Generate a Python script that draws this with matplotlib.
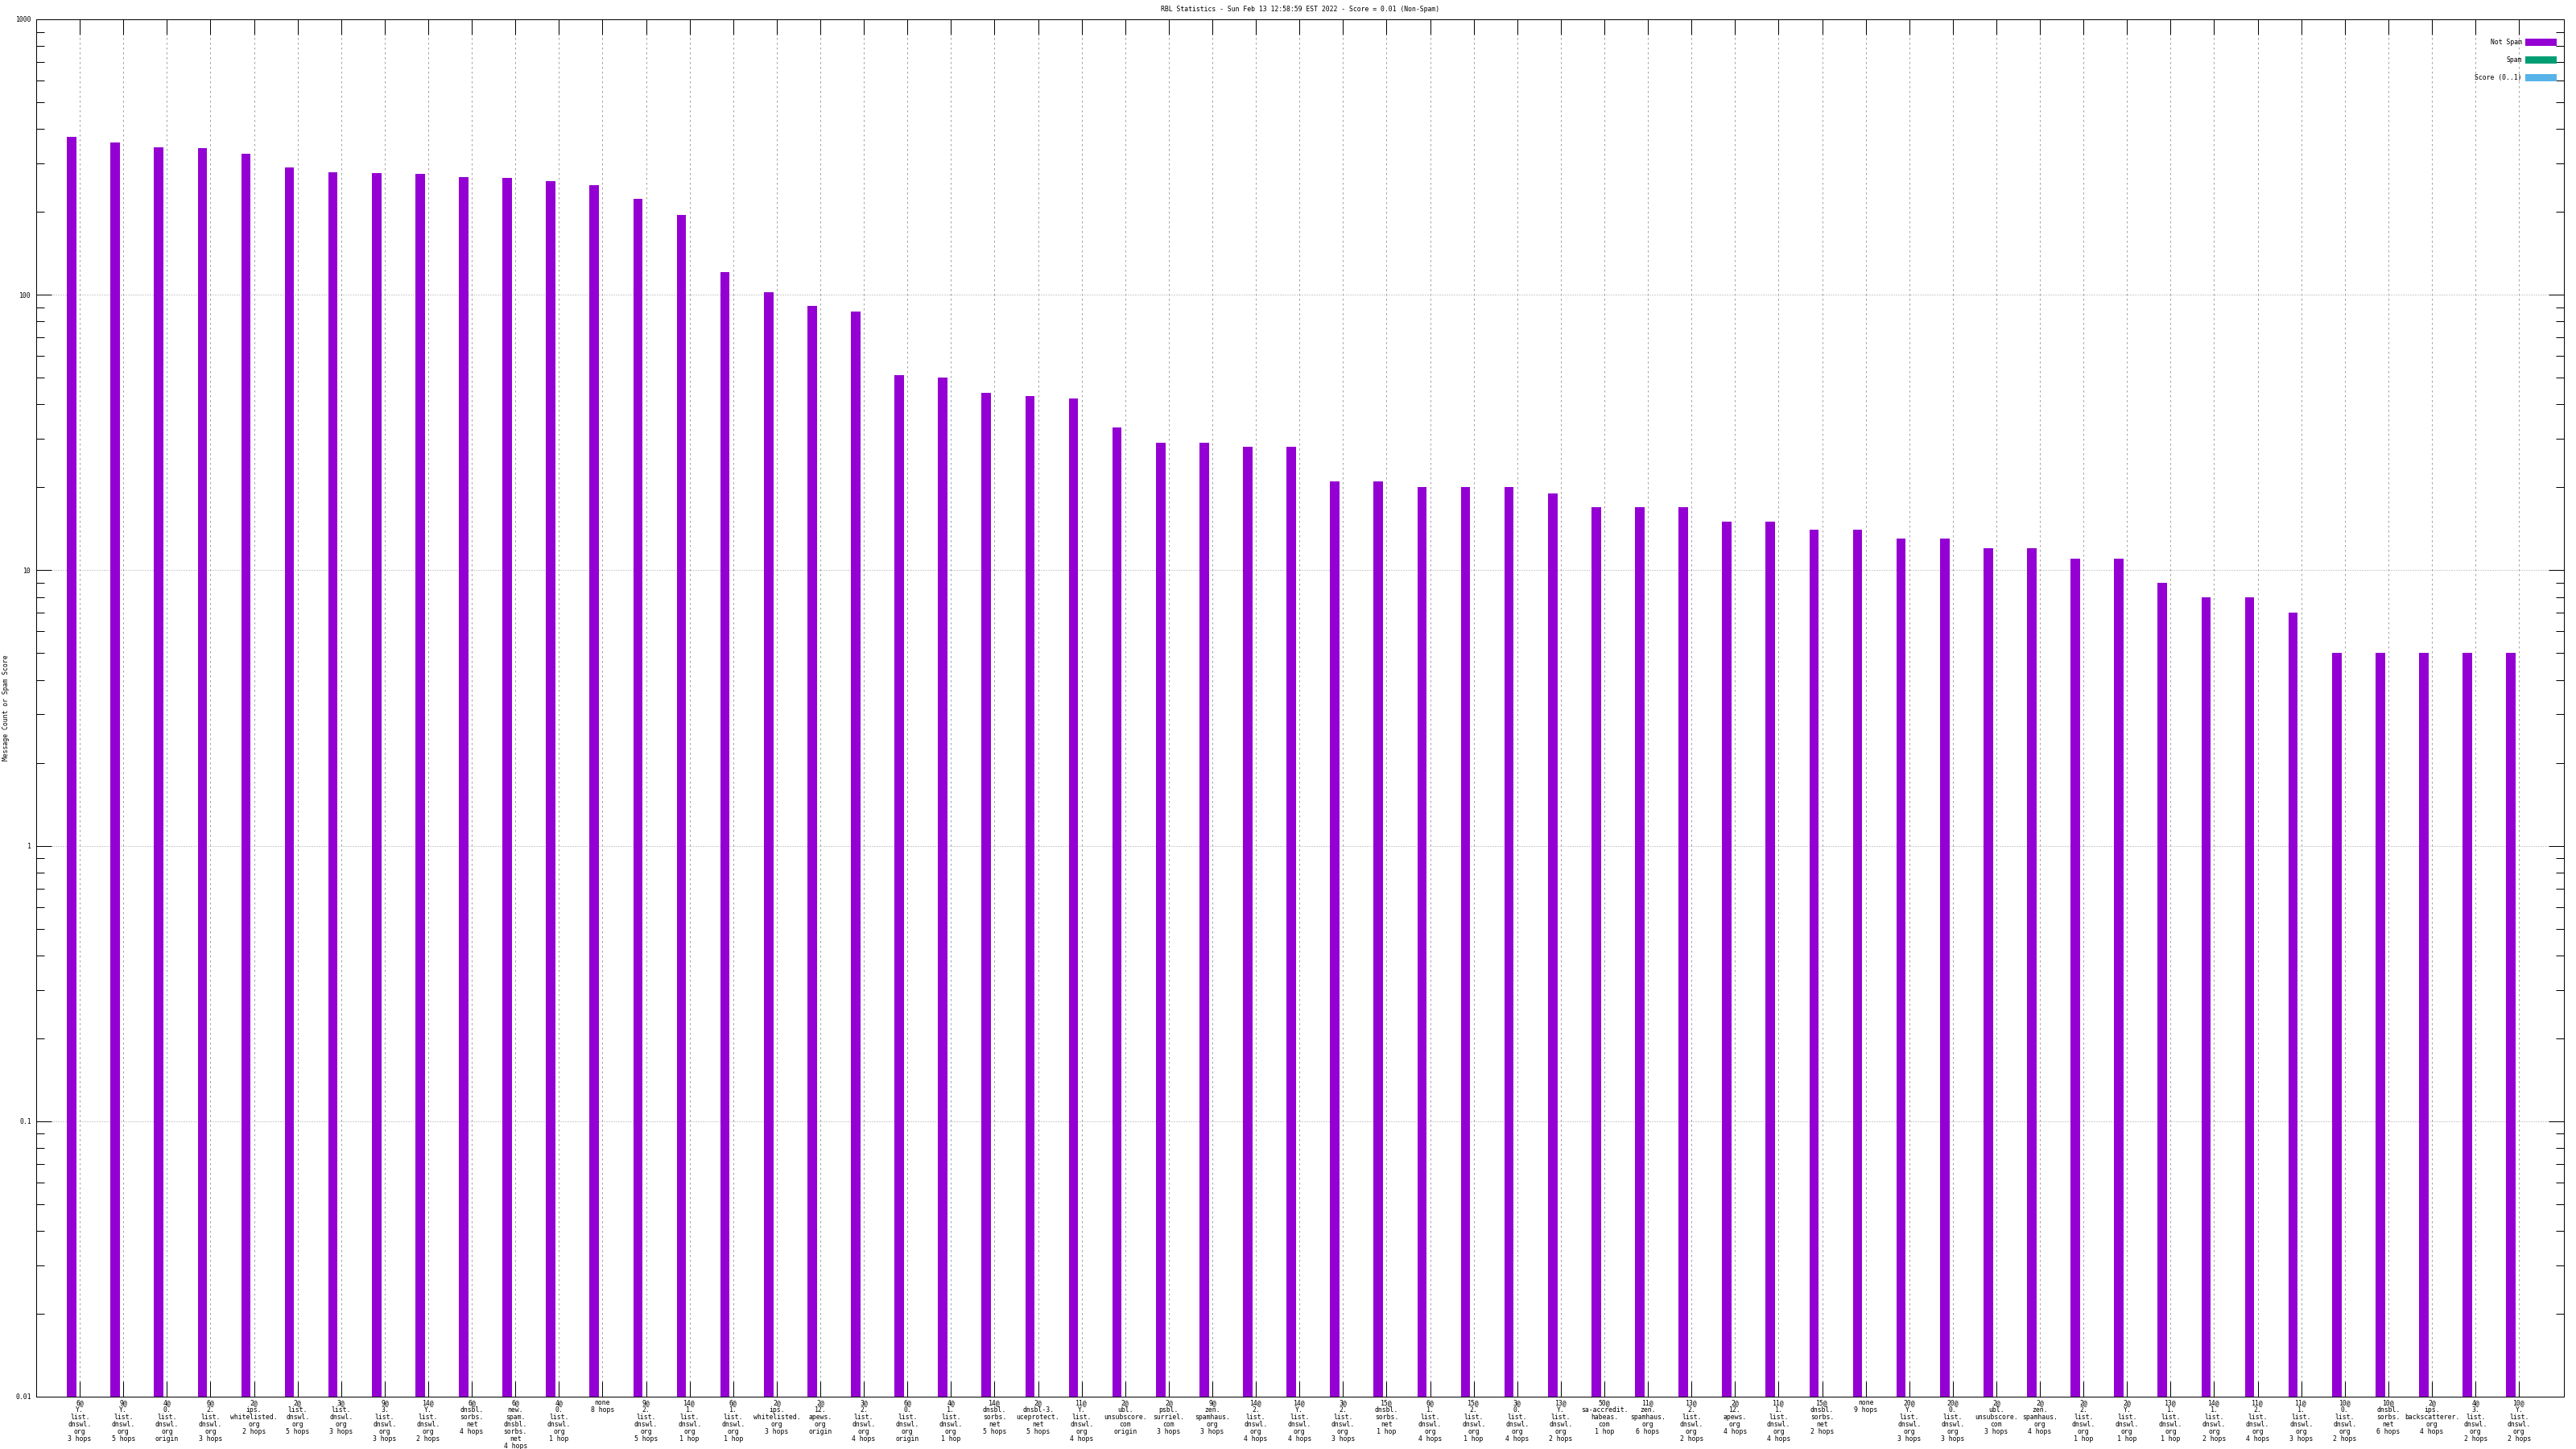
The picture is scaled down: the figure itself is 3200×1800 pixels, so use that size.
import numpy as np
import matplotlib.pyplot as plt
from matplotlib.patches import Patch
from matplotlib.ticker import LogLocator, NullFormatter

# one label per RBL check (list @ hops)
labels = [
    "6@\nY.\nlist.\ndnswl.\norg\n3 hops",
    "9@\nY.\nlist.\ndnswl.\norg\n5 hops",
    "4@\n0.\nlist.\ndnswl.\norg\norigin",
    "6@\n2.\nlist.\ndnswl.\norg\n3 hops",
    "2@\nips.\nwhitelisted.\norg\n2 hops",
    "2@\nlist.\ndnswl.\norg\n5 hops",
    "3@\nlist.\ndnswl.\norg\n3 hops",
    "9@\n3.\nlist.\ndnswl.\norg\n3 hops",
    "14@\nY.\nlist.\ndnswl.\norg\n2 hops",
    "6@\ndnsbl.\nsorbs.\nnet\n4 hops",
    "6@\nnew.\nspam.\ndnsbl.\nsorbs.\nnet\n4 hops",
    "4@\n0.\nlist.\ndnswl.\norg\n1 hop",
    "none\n8 hops",
    "9@\n2.\nlist.\ndnswl.\norg\n5 hops",
    "14@\n1.\nlist.\ndnswl.\norg\n1 hop",
    "6@\n1.\nlist.\ndnswl.\norg\n1 hop",
    "2@\nips.\nwhitelisted.\norg\n3 hops",
    "2@\n12.\napews.\norg\norigin",
    "3@\n2.\nlist.\ndnswl.\norg\n4 hops",
    "6@\n0.\nlist.\ndnswl.\norg\norigin",
    "4@\n1.\nlist.\ndnswl.\norg\n1 hop",
    "14@\ndnsbl.\nsorbs.\nnet\n5 hops",
    "2@\ndnsbl-3.\nuceprotect.\nnet\n5 hops",
    "11@\nY.\nlist.\ndnswl.\norg\n4 hops",
    "2@\nubl.\nunsubscore.\ncom\norigin",
    "2@\npsbl.\nsurriel.\ncom\n3 hops",
    "9@\nzen.\nspamhaus.\norg\n3 hops",
    "14@\n2.\nlist.\ndnswl.\norg\n4 hops",
    "14@\nY.\nlist.\ndnswl.\norg\n4 hops",
    "3@\n2.\nlist.\ndnswl.\norg\n3 hops",
    "15@\ndnsbl.\nsorbs.\nnet\n1 hop",
    "6@\n1.\nlist.\ndnswl.\norg\n4 hops",
    "15@\n2.\nlist.\ndnswl.\norg\n1 hop",
    "3@\n0.\nlist.\ndnswl.\norg\n4 hops",
    "13@\nY.\nlist.\ndnswl.\norg\n2 hops",
    "50@\nsa-accredit.\nhabeas.\ncom\n1 hop",
    "11@\nzen.\nspamhaus.\norg\n6 hops",
    "13@\n2.\nlist.\ndnswl.\norg\n2 hops",
    "2@\n12.\napews.\norg\n4 hops",
    "11@\n1.\nlist.\ndnswl.\norg\n4 hops",
    "15@\ndnsbl.\nsorbs.\nnet\n2 hops",
    "none\n9 hops",
    "20@\nY.\nlist.\ndnswl.\norg\n3 hops",
    "20@\n0.\nlist.\ndnswl.\norg\n3 hops",
    "2@\nubl.\nunsubscore.\ncom\n3 hops",
    "2@\nzen.\nspamhaus.\norg\n4 hops",
    "2@\n2.\nlist.\ndnswl.\norg\n1 hop",
    "2@\nY.\nlist.\ndnswl.\norg\n1 hop",
    "13@\n1.\nlist.\ndnswl.\norg\n1 hop",
    "14@\n1.\nlist.\ndnswl.\norg\n2 hops",
    "11@\n2.\nlist.\ndnswl.\norg\n4 hops",
    "11@\n1.\nlist.\ndnswl.\norg\n3 hops",
    "10@\n0.\nlist.\ndnswl.\norg\n2 hops",
    "10@\ndnsbl.\nsorbs.\nnet\n6 hops",
    "2@\nips.\nbackscatterer.\norg\n4 hops",
    "4@\n3.\nlist.\ndnswl.\norg\n2 hops",
    "10@\nY.\nlist.\ndnswl.\norg\n2 hops",
]

not_spam = [374, 357, 343, 340, 325, 290, 278, 276, 274, 267, 265, 258, 250, 223, 195,
            121, 102, 91, 87, 51, 50, 44, 43, 42, 33, 29, 29, 28, 28, 21, 21,
            20, 20, 20, 19, 17, 17, 17, 15, 15, 14, 14, 13, 13, 12, 12, 11, 11,
            9, 8, 8, 7, 5, 5, 5, 5, 5]

yticks = [0.01, 0.1, 1, 10, 100, 1000]
ytick_labels = ["0.01", "0.1", "1", "10", "100", "1000"]

title = "RBL Statistics - Sun Feb 13 12:58:59 EST 2022 - Score = 0.01 (Non-Spam)"
colors = {"Not Spam": "#9400d3", "Spam": "#009e73", "Score (0..1)": "#56b4e9"}

FS = 5.9
FONT = "DejaVu Sans Mono"


def main():
    plt.rcParams['font.family'] = FONT
    W, H = 3200, 1800
    fig = plt.figure(figsize=(32, 18), dpi=100)
    left, right, top, bottom = 45, 3185, 24, 1735
    ax = fig.add_axes([left / W, 1 - bottom / H, (right - left) / W, (bottom - top) / H])

    x = np.arange(len(not_spam))
    ax.bar(x - 0.187, not_spam, width=0.215, color=colors["Not Spam"], zorder=3)

    ax.set_yscale('log')
    ax.set_ylim(0.01, 1000)
    ax.set_xlim(-1.0, 57.03)

    ax.set_yticks(yticks)
    ax.set_yticklabels(ytick_labels, fontsize=FS)
    ax.yaxis.set_minor_locator(LogLocator(base=10, subs=np.arange(2, 10)))
    ax.yaxis.set_minor_formatter(NullFormatter())

    ax.set_xticks(x)
    ax.set_xticklabels(labels, fontsize=FS, linespacing=1.0, va='top')

    ax.tick_params(which='both', direction='in', top=True, right=True, width=0.72, color='black')
    ax.tick_params(axis='y', which='major', length=13.7, pad=4.3)
    ax.tick_params(axis='y', which='minor', length=7.2)
    ax.tick_params(axis='x', which='major', length=13.7, pad=2.5)
    ax.tick_params(axis='x', which='minor', length=0)

    for s in ax.spines.values():
        s.set_linewidth(0.72)
        s.set_zorder(5)

    ax.grid(axis='x', which='major', color='#a0a0a0', lw=0.72, linestyle=(0, (2.5, 3.5)), zorder=0)
    ax.grid(axis='y', which='major', color='#a0a0a0', lw=0.72, linestyle=(0, (1, 2)), zorder=0)
    ax.set_axisbelow(True)

    handles = [Patch(facecolor=c, edgecolor='none', label=k) for k, c in colors.items()]
    ax.legend(handles=handles, loc='upper right', markerfirst=False, frameon=False,
              fontsize=FS, handlelength=4.76, handleheight=1.34, handletextpad=0.5,
              labelspacing=1.55, borderpad=0, borderaxespad=0,
              bbox_to_anchor=(1 - 9 / (right - left), 1 - 24 / (bottom - top)))

    fig.text((left + right) / 2 / W, 1 - 12 / H, title, ha='center', va='center', fontsize=FS)
    fig.text(8 / W, 1 - (top + bottom) / 2 / H, "Message Count or Spam Score",
             rotation=90, ha='center', va='center', fontsize=FS)

    fig.savefig("out.png", dpi=100, facecolor='white')


if __name__ == "__main__":
    main()
